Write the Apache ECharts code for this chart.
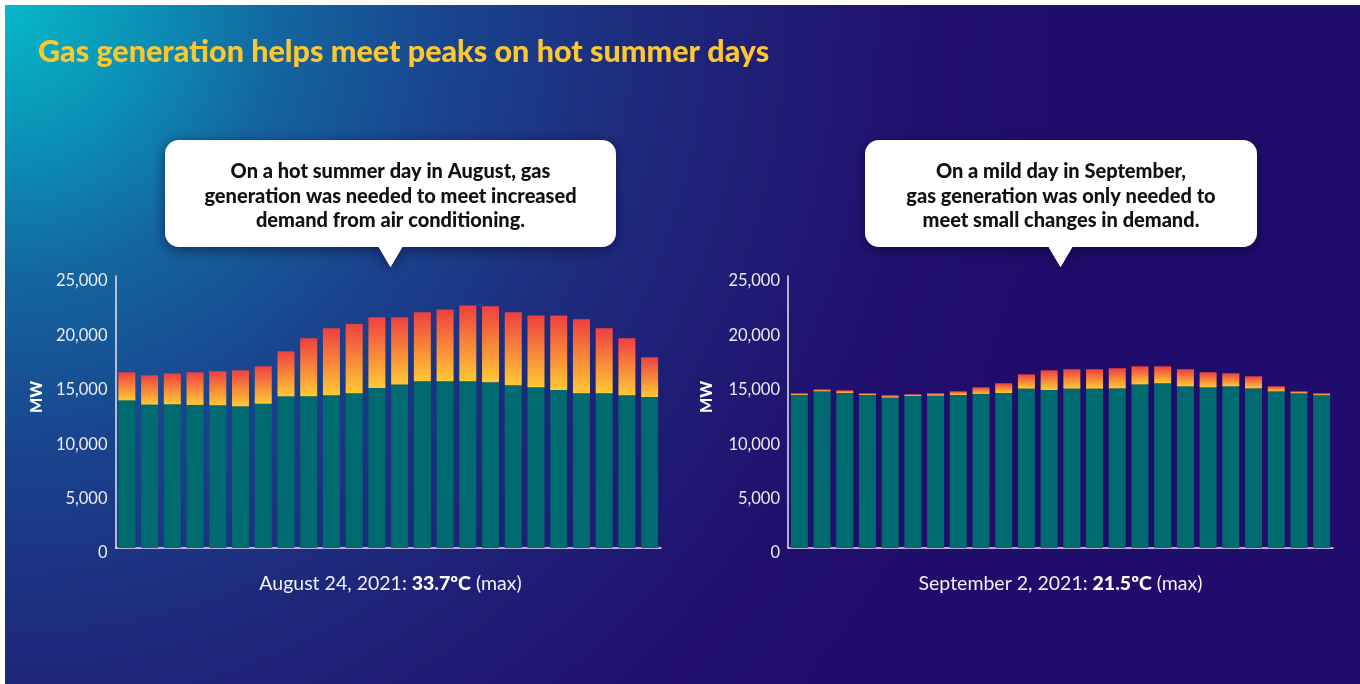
<!DOCTYPE html>
<html>
<head>
    <meta charset="utf-8">
    <title>Gas generation helps meet peaks on hot summer days</title>
    <script src="https://cdn.jsdelivr.net/npm/echarts@6/dist/echarts.min.js"></script>
    <style>
        html, body { margin: 0; padding: 0; background: #fff; }
        #chart1 { width: 1360px; height: 684px; }
    </style>
</head>
<body>
<div id="chart1"></div>
<script type="text/javascript">
    // hour of day (hour ending)
    var hours = ['1', '2', '3', '4', '5', '6', '7', '8', '9', '10', '11', '12',
        '13', '14', '15', '16', '17', '18', '19', '20', '21', '22', '23', '24'];

    // August 24, 2021 - MW
    var augOther = [13570, 13180, 13210, 13150, 13120, 13020, 13260, 13940, 13940, 14030, 14220, 14700,
        15020, 15320, 15320, 15320, 15230, 14950, 14770, 14520, 14220, 14220, 14030, 13880];
    var augGas = [2580, 2690, 2830, 3000, 3120, 3310, 3440, 4140, 5330, 6160, 6370, 6510,
        6190, 6340, 6610, 6980, 6980, 6710, 6610, 6860, 6800, 5970, 5240, 3650];

    // September 2, 2021 - MW
    var sepOther = [14060, 14400, 14250, 14060, 13820, 13970, 14000, 14060, 14160, 14250, 14650, 14520,
        14650, 14650, 14670, 15040, 15140, 14860, 14770, 14860, 14670, 14400, 14220, 14040];
    var sepGas = [160, 180, 240, 160, 220, 160, 220, 340, 610, 890, 1310, 1810,
        1780, 1780, 1850, 1660, 1560, 1570, 1380, 1200, 1110, 460, 180, 180];

    var yMin = 0, yMax = 25000, yStep = 5000;

    var font = 'Lato, "Open Sans", sans-serif';
    var teal = '#006a71';
    var gasFill = new echarts.graphic.LinearGradient(0, 0, 0, 1, [
        {offset: 0, color: '#ef4041'},
        {offset: 1, color: '#ffca33'}
    ]);

    function xAxisFor(idx) {
        return {
            type: 'category', gridIndex: idx, data: hours,
            axisLine: {lineStyle: {color: '#e4e4f0', width: 1.5}},
            axisTick: {show: false}, axisLabel: {show: false}
        };
    }

    function yAxisFor(idx) {
        return {
            type: 'value', gridIndex: idx, min: yMin, max: yMax, interval: yStep,
            axisLine: {show: true, lineStyle: {color: '#e4e4f0', width: 1.5}},
            axisTick: {show: false}, splitLine: {show: false},
            axisLabel: {
                color: '#ececf4', fontFamily: font, fontSize: 16.5, fontWeight: 'normal', margin: 8,
                // labels in the original sit a few px below their value
                verticalAlign: 'top', lineHeight: 10,
                formatter: function (v) { return v.toLocaleString('en-US'); }
            }
        };
    }

    function barSeries(name, idx, data, color, stack) {
        return {
            name: name, type: 'bar', stack: stack, xAxisIndex: idx, yAxisIndex: idx,
            data: data, barWidth: 17, itemStyle: {color: color}, silent: true
        };
    }

    var bgFill = new echarts.graphic.RadialGradient(5, 5, 1100, [
        {offset: 0, color: '#06b9c9'},
        {offset: 0.14, color: '#0c8db4'},
        {offset: 0.25, color: '#13659f'},
        {offset: 0.41, color: '#1a438d'},
        {offset: 0.56, color: '#1d2d7e'},
        {offset: 0.68, color: '#1f1f76'},
        {offset: 0.85, color: '#210f6d'},
        {offset: 1, color: '#200c6b'}
    ], true);

    var shadow = {shadowBlur: 14, shadowColor: 'rgba(5,0,40,0.55)', shadowOffsetY: 3};
    var calloutText = {
        fill: '#111111', fontFamily: font, fontWeight: 900, fontSize: 20,
        lineHeight: 24.5, align: 'center', verticalAlign: 'middle'
    };

    // speech bubble: box + pointer (pointer drawn twice so the shadow sits under the box)
    function callout(x, w, tip) {
        var tri = [[tip - 12.5, 246], [tip + 12.5, 246], [tip, 267]];
        return [
            {type: 'polygon', z: 4, silent: true, shape: {points: tri},
                style: Object.assign({fill: '#ffffff'}, shadow)},
            {type: 'rect', z: 5, silent: true, shape: {x: x, y: 140, width: w, height: 107, r: 14},
                style: Object.assign({fill: '#ffffff'}, shadow)},
            {type: 'polygon', z: 6, silent: true, shape: {points: tri}, style: {fill: '#ffffff'}}
        ];
    }

    var captionRich = {
        n: {fill: '#f2f2f8', fontFamily: font, fontSize: 19.5, fontWeight: 'normal'},
        b: {fill: '#ffffff', fontFamily: font, fontSize: 19.5, fontWeight: 900}
    };

    var myChart1 = echarts.init(document.getElementById('chart1'));
    myChart1.setOption({
        backgroundColor: '#ffffff',
        animation: false,
        grid: [
            {left: 115.5, top: 276, width: 545.5, height: 272},
            {left: 788, top: 276, width: 545, height: 272}
        ],
        xAxis: [xAxisFor(0), xAxisFor(1)],
        yAxis: [yAxisFor(0), yAxisFor(1)],
        series: [
            barSeries('Other generation', 0, augOther, teal, 'aug'),
            barSeries('Gas generation', 0, augGas, gasFill, 'aug'),
            barSeries('Other generation', 1, sepOther, teal, 'sep'),
            barSeries('Gas generation', 1, sepGas, gasFill, 'sep')
        ],
        graphic: [
            {
                type: 'rect', z: -10, silent: true,
                shape: {x: 5, y: 5, width: 1355, height: 679},
                style: {fill: bgFill}
            },
            {
                type: 'text', x: 38, y: 52, z: 10,
                style: {
                    text: 'Gas generation helps meet peaks on hot summer days',
                    fill: '#ffc72e', fontFamily: font, fontWeight: 900, fontSize: 30.5,
                    verticalAlign: 'middle'
                }
            }
        ].concat(callout(165, 451, 390.5), callout(865, 392, 1060.5), [
            {
                type: 'text', x: 390.5, y: 196.5, z: 7,
                style: Object.assign({
                    text: 'On a hot summer day in August, gas\ngeneration was needed to meet increased\ndemand from air conditioning.'
                }, calloutText)
            },
            {
                type: 'text', x: 1061, y: 196.5, z: 7,
                style: Object.assign({
                    text: 'On a mild day in September,\ngas generation was only needed to\nmeet small changes in demand.'
                }, calloutText)
            },
            {
                type: 'text', x: 37, y: 397, rotation: Math.PI / 2, z: 10,
                style: {
                    text: 'MW', fill: '#ffffff', fontFamily: font, fontWeight: 900, fontSize: 16,
                    align: 'center', verticalAlign: 'middle'
                }
            },
            {
                type: 'text', x: 707, y: 397, rotation: Math.PI / 2, z: 10,
                style: {
                    text: 'MW', fill: '#ffffff', fontFamily: font, fontWeight: 900, fontSize: 16,
                    align: 'center', verticalAlign: 'middle'
                }
            },
            {
                type: 'text', x: 390.5, y: 584, z: 10,
                style: {
                    text: '{n|August 24, 2021: }{b|33.7ºC}{n| (max)}',
                    align: 'center', verticalAlign: 'middle', rich: captionRich
                }
            },
            {
                type: 'text', x: 1060.5, y: 584, z: 10,
                style: {
                    text: '{n|September 2, 2021: }{b|21.5ºC}{n| (max)}',
                    align: 'center', verticalAlign: 'middle', rich: captionRich
                }
            }
        ])
    });
</script>
</body>
</html>
